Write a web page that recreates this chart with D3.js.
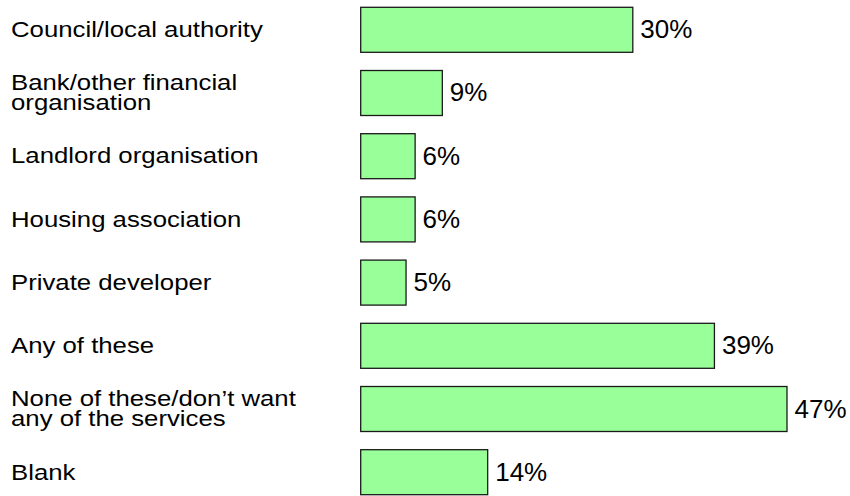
<!DOCTYPE html>
<html>
<head>
<meta charset="utf-8">
<script src="https://cdn.jsdelivr.net/npm/d3@7/dist/d3.min.js"></script>
<style>
  html, body { margin: 0; padding: 0; background: #ffffff; }
  svg { display: block; }
  text { font-family: "Liberation Sans", Arial, Helvetica, sans-serif; fill: #000; }
</style>
</head>
<body>
<svg id="chart" width="850" height="496"></svg>
<script>
// Categories (each entry is a list of label lines) and their percentages
const categories = [
  ["Council/local authority"],
  ["Bank/other financial", "organisation"],
  ["Landlord organisation"],
  ["Housing association"],
  ["Private developer"],
  ["Any of these"],
  ["None of these/don\u2019t want", "any of the services"],
  ["Blank"]
];
const values = [30, 9, 6, 6, 5, 39, 47, 14];
const valueLabels = ["30%", "9%", "6%", "6%", "5%", "39%", "47%", "14%"];

const svg = d3.select("#chart");
const keys = categories.map((c, i) => i);

const x = d3.scaleLinear().domain([0, 50]).range([360.7, 360.7 + 453.5]);
const y = d3.scaleBand().domain(keys).range([7.3, 494.7]).paddingInner(0.288).paddingOuter(0);

// Bars
svg.append("g").selectAll("rect")
  .data(keys)
  .join("rect")
  .attr("x", x(0))
  .attr("y", i => y(i))
  .attr("width", i => x(values[i]) - x(0))
  .attr("height", y.bandwidth())
  .attr("fill", "#99ff99")
  .attr("stroke", "#1a1a1a")
  .attr("stroke-width", 1.3);

// Value labels at bar ends
svg.append("g").selectAll("text")
  .data(keys)
  .join("text")
  .attr("x", i => x(values[i]) + 7.5)
  .attr("y", i => y(i) + y.bandwidth() / 2 + 8.5)
  .attr("font-size", 26)
  .text(i => valueLabels[i]);

// Category labels on the left, set in a slightly wide face
const lineGap = 20;
const cats = svg.append("g").selectAll("text")
  .data(keys)
  .join("text")
  .attr("font-size", 23)
  .attr("transform", i => {
    const c = y(i) + y.bandwidth() / 2;
    const n = categories[i].length;
    const base = c + 7.3 - (n - 1) * lineGap / 2 - (n - 1) * 0.7;
    return `translate(11,${base}) scale(1.12,1)`;
  });
cats.selectAll("tspan")
  .data(i => categories[i].map((t, k) => ({ t, k })))
  .join("tspan")
  .attr("x", 0)
  .attr("dy", d => d.k === 0 ? 0 : lineGap)
  .text(d => d.t);
</script>
</body>
</html>
